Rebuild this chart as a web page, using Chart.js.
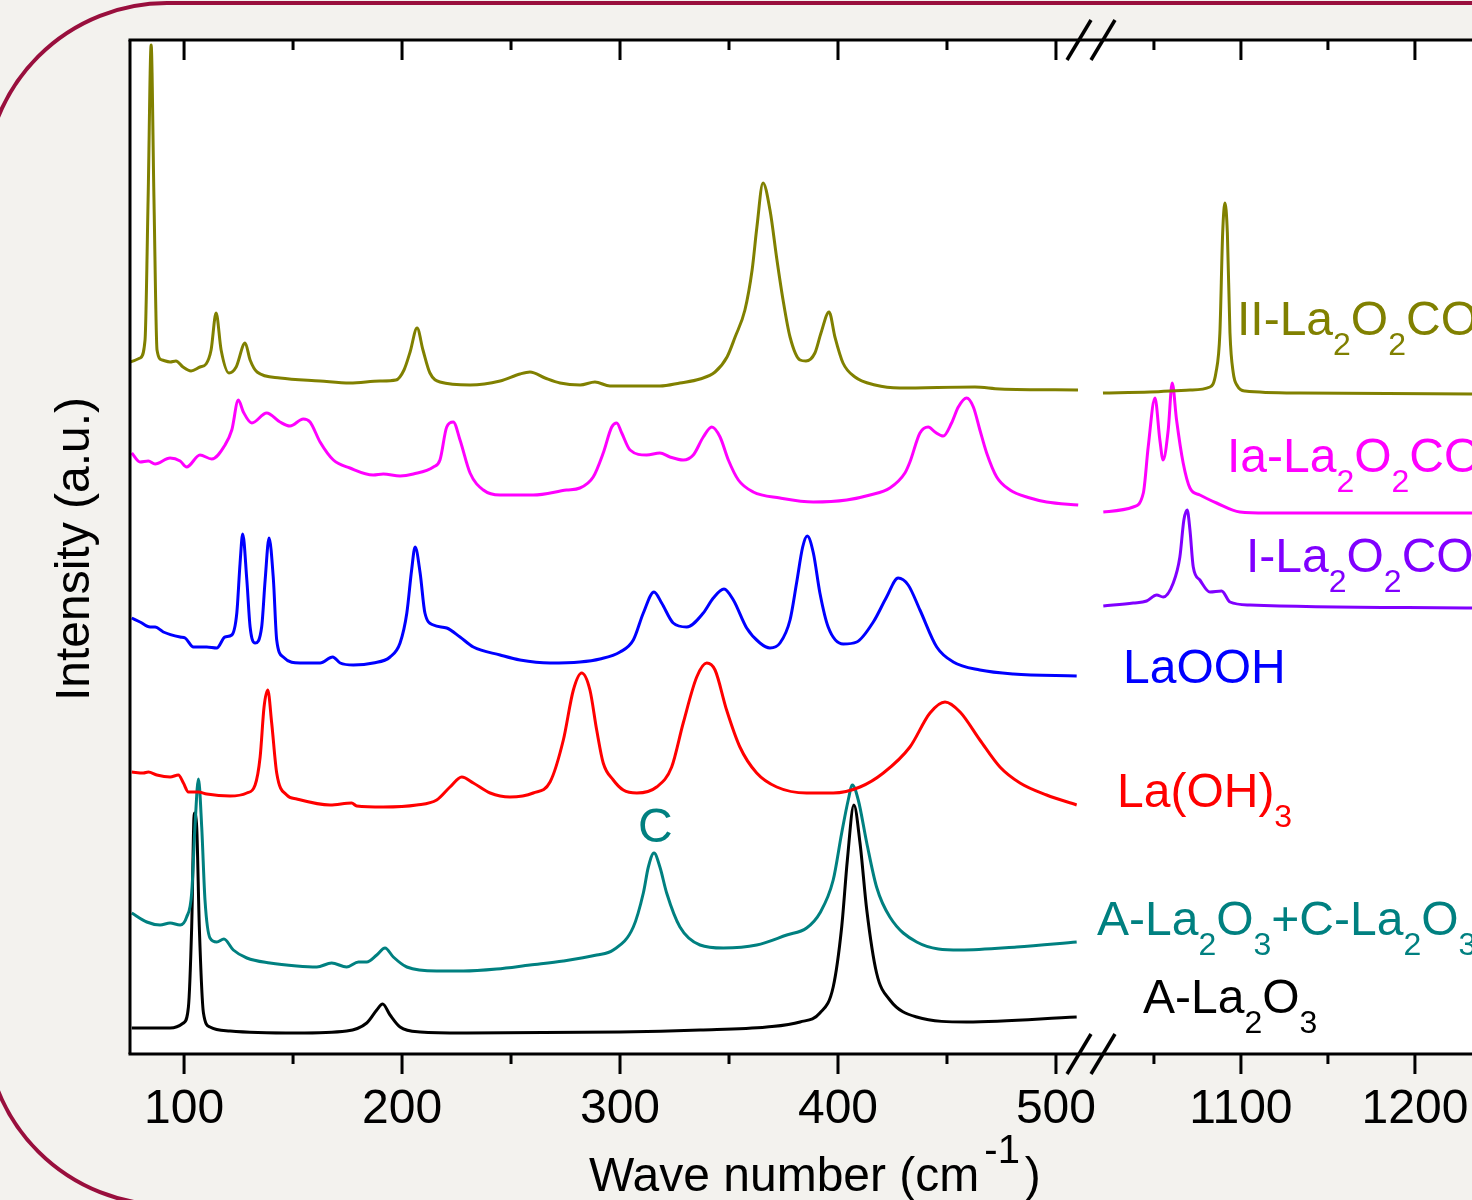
<!DOCTYPE html>
<html>
<head>
<meta charset="utf-8">
<title>Raman spectra of La compounds</title>
<script src="https://cdn.jsdelivr.net/npm/chart.js@4.4.1/dist/chart.umd.min.js"></script>
<style>
  html, body { margin: 0; padding: 0; background: #f3f2ee; overflow: hidden; }
  canvas { display: block; }
</style>
</head>
<body>
<canvas id="raman" width="1472" height="1200"></canvas>
<script>
// wave number (cm-1), intensity (a.u., offset stack as plotted)
const iiLa2O2CO3Low = [[75.2,692],[79.8,696],[82.1,714],[83.5,854],[84.9,1009],[86.2,854],[87.6,704],[89.9,694],[93.6,692],[96.3,693],[99.5,687],[103.2,683],[107.3,687],[110.1,690],[112.4,704],[114.7,741],[117.0,704],[120.6,681],[123.9,687],[128.0,711],[130.3,694],[133.5,682],[144.0,676],[162.4,673],[176.1,671],[189.9,673],[197.2,674],[200.9,684],[203.7,702],[206.9,726],[209.6,704],[212.8,681],[217.4,672],[231.2,669],[245.0,673],[254.1,680],[258.7,682],[265.6,676],[272.5,671],[281.7,669],[288.5,672],[295.4,668],[318.3,668],[327.5,671],[336.7,675],[343.6,682],[349.1,697],[352.8,717],[357.3,744],[360.6,784],[362.8,827],[365.6,871],[368.8,844],[372.0,794],[374.8,754],[378.0,717],[382.6,694],[385.3,693],[389.4,701],[392.2,721],[395.9,742],[398.6,717],[402.3,691],[407.8,677],[417.0,669],[428.4,666],[462.8,667],[474.3,665],[510.1,664]];
const iiLa2O2CO3High = [[1020.7,661],[1047.7,662],[1070.7,664],[1082.2,667],[1085.6,681],[1087.9,721],[1089.5,821],[1090.8,851],[1092.2,821],[1093.7,721],[1095.6,681],[1098.0,668],[1102.3,663],[1133.9,661],[1232.8,660]];

const iaLa2O2CO3Low = [[76.0,601],[79.8,592],[83.6,593],[86.7,590],[93.6,596],[98.2,593],[101.2,587],[107.3,599],[112.7,595],[118.8,609],[121.9,624],[124.9,654],[127.2,642],[131.1,631],[137.9,641],[144.0,632],[148.6,628],[154.7,635],[157.8,632],[162.4,612],[168.5,594],[176.1,586],[186.8,579],[191.4,580],[199.1,578],[205.2,580],[214.4,587],[217.4,594],[220.5,627],[223.5,632],[226.6,614],[231.2,581],[237.3,564],[245.0,559],[260.2,559],[275.5,564],[281.6,566],[287.7,577],[292.3,601],[296.2,627],[298.5,631],[300.8,621],[304.6,604],[312.2,599],[318.3,601],[322.9,597],[329.0,594],[333.6,599],[338.2,617],[342.1,627],[345.9,617],[349.7,594],[354.3,574],[361.1,562],[373.4,556],[388.7,552],[404.0,554],[414.7,559],[423.8,566],[430.7,581],[433.0,592],[437.6,621],[441.4,627],[444.5,622],[448.3,618],[452.1,631],[455.2,647],[459.0,656],[462.1,647],[465.1,624],[468.2,601],[472.8,577],[478.9,564],[488.1,556],[495.7,552],[510.2,549]];
const iaLa2O2CO3High = [[1020.9,542],[1038.1,547],[1043.9,561],[1046.7,607],[1050.6,656],[1053.4,614],[1055.3,594],[1058.2,624],[1060.5,671],[1063.0,634],[1066.8,591],[1070.7,566],[1076.4,559],[1086.0,551],[1099.4,542],[1114.8,541],[1232.8,541]];

const iLa2O2CO3High = [[1020.9,448],[1038.1,451],[1045.8,453],[1051.6,459],[1055.3,457],[1061.1,471],[1064.9,497],[1067.2,534],[1069.1,544],[1070.7,524],[1072.6,487],[1076.4,474],[1082.2,462],[1088.9,463],[1093.7,452],[1105.2,449],[1232.8,446]];

const laOOH = [[76.0,436],[79.8,432],[84.4,427],[86.7,427],[90.5,422],[98.2,417],[100.5,416],[104.3,407],[110.4,407],[115.0,406],[118.8,417],[121.9,419],[124.2,441],[125.7,491],[126.9,520],[128.8,474],[130.3,427],[132.6,411],[135.6,427],[137.2,474],[139.0,516],[141.0,474],[142.5,414],[145.5,397],[153.2,391],[162.4,391],[168.2,397],[171.6,391],[177.7,389],[186.8,391],[194.5,397],[199.1,411],[202.2,441],[204.4,484],[206.0,507],[208.3,481],[210.5,441],[214.4,429],[220.5,426],[226.6,417],[232.7,407],[245.0,399],[254.1,394],[267.9,391],[281.6,392],[290.8,395],[300.0,402],[306.1,414],[310.7,441],[315.6,462],[319.1,451],[324.4,431],[330.6,427],[338.2,441],[342.8,456],[347.7,465],[352.0,454],[358.1,426],[364.2,411],[368.8,406],[373.4,411],[378.0,434],[381.0,471],[383.8,507],[385.9,518],[388.7,501],[391.7,461],[395.5,427],[402.4,410],[408.6,412],[416.2,432],[422.3,457],[427.6,476],[432.2,469],[437.6,444],[445.3,407],[452.9,392],[465.1,384],[480.4,380],[509.5,378]];

const laOH3 = [[76.0,282],[81.3,281],[83.6,282],[87.5,279],[93.6,277],[97.4,279],[99.7,271],[102.0,262],[106.6,262],[110.4,260],[121.1,258],[128.8,261],[132.6,269],[134.9,297],[136.7,347],[138.4,364],[140.2,331],[142.5,281],[147.1,259],[151.7,255],[167.0,249],[176.9,251],[179.2,248],[191.4,247],[206.7,249],[215.9,254],[222.0,267],[227.4,277],[232.7,271],[240.4,261],[249.5,257],[260.2,261],[267.9,272],[274.0,314],[278.6,364],[282.4,381],[286.2,364],[289.3,324],[292.3,291],[296.9,274],[301.5,264],[307.7,261],[316.8,267],[323.7,287],[329.0,331],[335.2,377],[339.8,391],[343.6,384],[348.9,344],[355.0,307],[362.7,281],[371.9,267],[385.6,261],[397.8,261],[410.1,267],[420.8,281],[433.0,307],[442.2,341],[449.1,352],[456.0,342],[465.1,314],[474.3,287],[483.5,271],[495.7,259],[509.5,249]];

const aPlusCLa2O3 = [[76.0,141],[82.9,132],[89.0,129],[93.6,131],[98.2,129],[101.2,137],[103.5,161],[105.0,227],[106.6,275],[108.1,227],[109.6,154],[111.9,116],[115.0,112],[118.3,115],[122.6,104],[128.8,96],[139.4,91],[151.7,88],[160.9,87],[167.7,91],[174.6,87],[180.0,92],[183.8,92],[188.4,99],[192.2,106],[196.0,97],[202.2,87],[215.9,83],[228.1,83],[243.4,85],[258.7,89],[274.0,93],[289.3,99],[296.9,104],[306.1,127],[310.7,161],[313.0,187],[315.6,201],[318.3,187],[321.4,161],[327.5,127],[336.7,109],[347.4,106],[362.7,109],[376.5,119],[385.6,126],[391.7,141],[397.8,174],[401.7,221],[404.7,254],[406.6,269],[409.3,254],[413.2,211],[417.7,167],[423.8,137],[436.1,112],[456.0,104],[482.0,107],[509.5,112]];

const aLa2O3 = [[76.0,26],[93.6,26],[99.7,31],[102.0,47],[103.5,127],[104.7,241],[105.8,227],[107.0,127],[108.9,41],[111.9,27],[121.1,23],[151.7,21],[174.6,23],[183.8,31],[188.4,44],[191.1,50],[194.5,39],[199.1,27],[208.3,22],[228.1,21],[300.0,22],[336.7,24],[367.3,27],[382.6,32],[391.7,41],[397.8,67],[401.7,127],[404.3,194],[407.3,249],[410.1,211],[413.2,144],[417.7,81],[423.8,54],[436.1,37],[459.0,32],[509.5,37]];

// axis ticks on each side of the break
const ticksLow = [100, 150, 200, 250, 300, 350, 400, 450, 500];
const ticksHigh = [1050, 1100, 1150, 1200];

const FONT = '"Liberation Sans", Arial, sans-serif';
const OLIVE = '#808000', MAGENTA = '#ff00ff', VIOLET = '#8000ff', BLUE = '#0000ff', RED = '#ff0000', TEAL = '#008080', BLACK = '#000000';

const series = [
  { label: 'II-La2O2CO3', data: iiLa2O2CO3Low, axis: 'xl', color: OLIVE },
  { label: 'II-La2O2CO3', data: iiLa2O2CO3High, axis: 'xr', color: OLIVE },
  { label: 'Ia-La2O2CO3', data: iaLa2O2CO3Low, axis: 'xl', color: MAGENTA },
  { label: 'Ia-La2O2CO3', data: iaLa2O2CO3High, axis: 'xr', color: MAGENTA },
  { label: 'I-La2O2CO3', data: iLa2O2CO3High, axis: 'xr', color: VIOLET },
  { label: 'LaOOH', data: laOOH, axis: 'xl', color: BLUE },
  { label: 'La(OH)3', data: laOH3, axis: 'xl', color: RED },
  { label: 'A-La2O3+C-La2O3', data: aPlusCLa2O3, axis: 'xl', color: TEAL },
  { label: 'A-La2O3', data: aLa2O3, axis: 'xl', color: BLACK }
];

// "_x" = subscript char, "^{..}" = superscript
const curveLabels = [
  { text: 'II-La_2O_2CO_3', color: OLIVE, x: 1237, y: 335 },
  { text: 'Ia-La_2O_2CO_3', color: MAGENTA, x: 1227, y: 472 },
  { text: 'I-La_2O_2CO_3', color: VIOLET, x: 1246, y: 572 },
  { text: 'LaOOH', color: BLUE, x: 1123, y: 683 },
  { text: 'La(OH)_3', color: RED, x: 1117, y: 807 },
  { text: 'A-La_2O_3+C-La_2O_3', color: TEAL, x: 1097, y: 935 },
  { text: 'A-La_2O_3', color: BLACK, x: 1143, y: 1013 },
  { text: 'C', color: TEAL, x: 638, y: 842 }
];

function drawRich(ctx, text, x, y, size, supScale, supGap) {
  const re = /_(.)|\^\{([^}]*)\}|([^_^]+)/g;
  let m;
  while ((m = re.exec(text))) {
    let s = m[3], fs = size, dy = 0, gap = 0;
    if (m[1]) { s = m[1]; fs = Math.round(size * 0.66); dy = size * 0.42; }
    if (m[2]) { s = m[2]; fs = Math.round(size * (supScale || 0.75)); dy = -size * 0.58; gap = supGap || 0; }
    ctx.font = fs + 'px ' + FONT;
    x += gap;
    ctx.fillText(s, x, y + dy);
    x += ctx.measureText(s).width + gap;
  }
  return x;
}

function seg(ctx, x1, y1, x2, y2) {
  ctx.beginPath(); ctx.moveTo(x1, y1); ctx.lineTo(x2, y2); ctx.stroke();
}

const slideFrame = {
  id: 'slideFrame',
  beforeDraw(chart) {
    const { ctx, chartArea: a, width, height } = chart;
    ctx.save();
    ctx.fillStyle = '#f3f2ee';
    ctx.fillRect(0, 0, width, height);
    ctx.beginPath();
    ctx.roundRect(-15, 3, width + 400, 1202, 182);
    ctx.strokeStyle = '#990f3d';
    ctx.lineWidth = 4;
    ctx.stroke();
    ctx.fillStyle = '#ffffff';
    ctx.fillRect(a.left, a.top, a.right - a.left, a.bottom - a.top);
    ctx.restore();
  },
  afterDraw(chart) {
    const { ctx, chartArea: a, scales } = chart;
    ctx.save();
    ctx.strokeStyle = '#000';
    ctx.lineWidth = 3;
    seg(ctx, a.left - 1.5, a.top, a.right, a.top);
    seg(ctx, a.left - 1.5, a.bottom, a.right, a.bottom);
    seg(ctx, a.left, a.top, a.left, a.bottom);

    for (const s of [scales.xl, scales.xr]) {
      s.ticks.forEach(t => {
        const px = s.getPixelForValue(t.value);
        const len = t.value % 100 === 0 ? 20 : 10;
        seg(ctx, px, a.bottom, px, a.bottom + len);
        seg(ctx, px, a.top, px, a.top + len);
      });
    }

    // axis break marks
    const c = scales.xl.right - 9;
    ctx.lineWidth = 3.5;
    for (const yAxis of [a.top, a.bottom]) {
      seg(ctx, c - 24, yAxis + 20, c, yAxis - 20);
      seg(ctx, c, yAxis + 20, c + 24, yAxis - 20);
    }

    ctx.textAlign = 'left';
    ctx.textBaseline = 'alphabetic';
    for (const l of curveLabels) {
      ctx.fillStyle = l.color;
      drawRich(ctx, l.text, l.x, l.y, 48);
    }

    ctx.fillStyle = '#000';
    drawRich(ctx, 'Wave number (cm^{-1})', 589, 1191, 48, 0.83, 5);

    ctx.save();
    ctx.translate(89, 549);
    ctx.rotate(-Math.PI / 2);
    ctx.textAlign = 'center';
    ctx.font = '48px ' + FONT;
    ctx.fillText('Intensity (a.u.)', 0, 0);
    ctx.restore();
    ctx.restore();
  }
};

function xAxis(min, max, weight, tickValues) {
  return {
    type: 'linear',
    position: 'bottom',
    stack: 'wave',
    stackWeight: weight,
    min: min,
    max: max,
    afterBuildTicks: scale => { scale.ticks = tickValues.map(v => ({ value: v })); },
    afterFit: scale => { scale.paddingLeft = 0; scale.paddingRight = 0; },
    ticks: {
      autoSkip: false,
      maxRotation: 0,
      minRotation: 0,
      padding: 0,
      color: '#000',
      font: { family: FONT, size: 48 },
      callback: v => (v % 100 === 0 ? String(v) : '')
    },
    grid: { drawOnChartArea: false, drawTicks: true, tickLength: 27, tickColor: 'rgba(0,0,0,0)' },
    border: { display: false }
  };
}

new Chart(document.getElementById('raman'), {
  type: 'line',
  data: {
    datasets: series.map(s => ({
      label: s.label,
      data: s.data.map(([x, y]) => ({ x, y })),
      xAxisID: s.axis,
      yAxisID: 'y',
      borderColor: s.color,
      borderWidth: 3,
      pointRadius: 0,
      fill: false,
      cubicInterpolationMode: 'monotone'
    }))
  },
  options: {
    responsive: false,
    devicePixelRatio: 1,
    animation: false,
    layout: { padding: { left: 130, right: 0, top: 40, bottom: 61.4 } },
    plugins: { legend: { display: false }, tooltip: { enabled: false } },
    scales: {
      xl: xAxis(75.2, 520.2, 970, ticksLow),
      xr: xAxis(1019, 1232.8, 372, ticksHigh),
      y: { type: 'linear', display: false, min: 0, max: 1014 }
    }
  },
  plugins: [slideFrame]
});
</script>
</body>
</html>
